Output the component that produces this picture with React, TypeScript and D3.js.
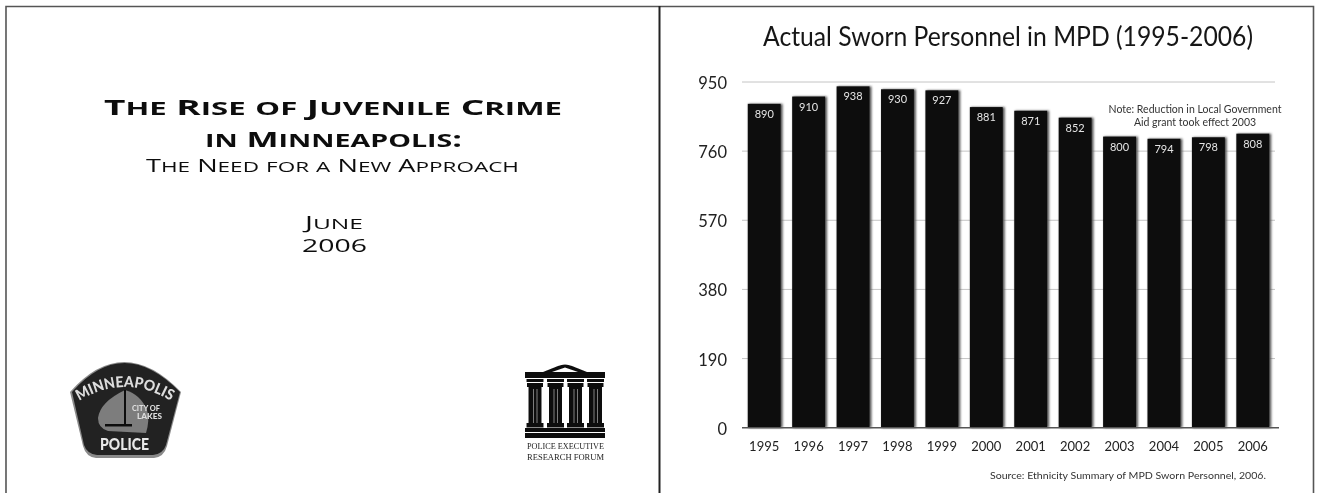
import React from "react";
import * as d3 from "d3";

const years = ["1995","1996","1997","1998","1999","2000","2001","2002","2003","2004","2005","2006"];
const sworn = [890,910,938,930,927,881,871,852,800,794,798,808];
const yTicks = [0,190,380,570,760,950];
const chartTitle = "Actual Sworn Personnel in MPD (1995-2006)";
const noteLines = ["Note: Reduction in Local Government","Aid grant took effect 2003"];
const sourceText = "Source: Ethnicity Summary of MPD Sworn Personnel, 2006.";

const W = 1318, H = 493;
const x = d3.scaleBand<string>().domain(years).range([742,1275]).paddingInner(0.26).paddingOuter(0.13);
const y = d3.scaleLinear().domain([0,950]).range([427.7,82]);
const gill = "Lato, 'Open Sans', sans-serif";
const bank = "'Open Sans', 'DejaVu Sans', sans-serif";

const titleLines = [
  { t:"The Rise of Juvenile Crime", x0:104, x1:562, base:115, big:22, small:18.5, weight:700 },
  { t:"in Minneapolis:", x0:205, x1:462, base:147, big:22, small:18.5, weight:700 },
  { t:"The Need for a New Approach", x0:146, x1:519, base:172, big:17.5, small:14.5, weight:500 },
  { t:"June", x0:305, x1:363, base:229, big:17.5, small:14.5, weight:500 },
  { t:"2006", x0:302, x1:367, base:252, big:17.5, small:17.5, weight:500 },
];
const columns = [535,555.5,575.5,595.5];
const baseBands = [[428,4],[433,5]];

function smallCaps(t: string, big: number, small: number) {
  return t.split("").map((c, i) => {
    const lower = c !== c.toUpperCase();
    return <tspan key={i} fontSize={lower ? small : big}>{c.toUpperCase()}</tspan>;
  });
}

export default function App() {
  return (
    <svg width={W} height={H} viewBox={`0 0 ${W} ${H}`} style={{position:"absolute",left:0,top:0,background:"#fff"}}>
      <defs>
        <filter id="soft" x="-2%" y="-2%" width="104%" height="104%"><feGaussianBlur stdDeviation="0.5"/></filter>
        <filter id="shadow" x="-30%" y="-5%" width="160%" height="110%"><feGaussianBlur stdDeviation="1.3"/></filter>
        <path id="arcTop" d="M79,401 Q125,373 171,401"/>
      </defs>
      <g filter="url(#soft)">
        <path d="M6,493 V6.5 H1313.5 V493" stroke="#555" strokeWidth={1.6} fill="none"/>
        <line x1={659.5} x2={659.5} y1={6} y2={493} stroke="#222" strokeWidth={2}/>

        {titleLines.map(l=>(
          <text key={l.t} x={l.x0} y={l.base} fontFamily={bank} fontWeight={l.weight}
            fill="#111" textLength={l.x1-l.x0} lengthAdjust="spacingAndGlyphs">{smallCaps(l.t,l.big,l.small)}</text>
        ))}

        {/* Minneapolis Police badge */}
        <path d="M70,392 Q123,332 181,392 L167,446 Q164,457 154,458 L96,458 Q86,457 83,446 Z" fill="#8a8a8a"/>
        <path d="M72,392 Q123,334 180,392 L166,445 Q163,454 153,455 L97,455 Q87,454 84,445 Z" fill="#222"/>
        <path d="M125,390 Q140,394 147,410 Q150,420 146,433 L108,431 Q98,428 98,418 Q100,402 125,390 Z" fill="#7d7d7d"/>
        <line x1={125} x2={125} y1={390} y2={425} stroke="#111" strokeWidth={2}/>
        <rect x={105} y={424} width={27} height={2.5} fill="#111"/>
        <text fontFamily={gill} fontSize={15} fontWeight={900} fill="#ddd">
          <textPath href="#arcTop" startOffset="0" textLength={97} lengthAdjust="spacingAndGlyphs">MINNEAPOLIS</textPath>
        </text>
        <text x={132} y={411} fontFamily={gill} fontSize={8} fontWeight={900} fill="#ddd" textLength={28} lengthAdjust="spacingAndGlyphs">CITY OF</text>
        <text x={137} y={419} fontFamily={gill} fontSize={8} fontWeight={900} fill="#ddd" textLength={25} lengthAdjust="spacingAndGlyphs">LAKES</text>
        <text x={100} y={450} fontFamily={gill} fontSize={16} fontWeight={900} fill="#e8e8e8" textLength={49} lengthAdjust="spacingAndGlyphs">POLICE</text>

        {/* Police Executive Research Forum logo */}
        <path d="M543,372 L558,366 Q565,363 572,366 L587,372 H578 L565,367.5 L552,372 Z" fill="#111"/>
        <rect x={525} y={372} width={80} height={6} fill="#111"/>
        {columns.map(c=>(
          <g key={c}>
            <rect x={c-8.5} y={379} width={17} height={3} fill="#111"/>
            <rect x={c-8} y={383} width={16} height={4} fill="#111"/>
            <rect x={c-6.5} y={387} width={13} height={36} fill="#111"/>
            <line x1={c-1.5} x2={c-1.5} y1={389} y2={423} stroke="#999" strokeWidth={0.8}/>
            <line x1={c+2} x2={c+2} y1={389} y2={423} stroke="#999" strokeWidth={0.8}/>
            <rect x={c-8.5} y={423} width={17} height={4.5} fill="#111"/>
          </g>
        ))}
        {baseBands.map(([top,h])=><rect key={top} x={525} y={top} width={80} height={h} fill="#111"/>)}
        <text x={527} y={449} fontFamily="'Liberation Serif', serif" fontSize={8} fill="#222" textLength={77} lengthAdjust="spacingAndGlyphs">POLICE EXECUTIVE</text>
        <text x={527} y={459.5} fontFamily="'Liberation Serif', serif" fontSize={8} fill="#222" textLength={77} lengthAdjust="spacingAndGlyphs">RESEARCH FORUM</text>

        {/* Chart */}
        <text x={763} y={46} fontFamily={gill} fontSize={26} fill="#151515" textLength={490} lengthAdjust="spacingAndGlyphs">{chartTitle}</text>

        {yTicks.map(t=>(
          <g key={t}>
            {t>0 && <line x1={742} x2={1275} y1={y(t)} y2={y(t)} stroke="#c4c4c4" strokeWidth={1}/>}
            <text x={727} y={y(t)+7} textAnchor="end" fontFamily={gill} fontSize={16.5} fill="#222">{t}</text>
          </g>
        ))}

        {years.map((yr,i)=>(
          <rect key={yr} x={x(yr)!+1} y={y(sworn[i])} width={x.bandwidth()+1} height={y(0)-y(sworn[i])} fill="#555" filter="url(#shadow)"/>
        ))}
        {years.map((yr,i)=>(
          <g key={yr}>
            <rect x={x(yr)} y={y(sworn[i])} width={x.bandwidth()} height={y(0)-y(sworn[i])} fill="#0c0c0c"/>
            <text x={x(yr)!+x.bandwidth()/2} y={y(sworn[i])+14} textAnchor="middle" fontFamily={gill} fontSize={11} fill="#e4e4e4">{sworn[i]}</text>
            <text x={x(yr)!+x.bandwidth()/2} y={450.5} textAnchor="middle" fontFamily={gill} fontSize={13} fill="#222">{yr}</text>
          </g>
        ))}
        <line x1={742} x2={1279} y1={y(0)} y2={y(0)} stroke="#555" strokeWidth={1.4}/>

        {noteLines.map((n,i)=>(
          <text key={n} x={1195} y={112.5+i*13.3} textAnchor="middle" fontFamily={gill} fontSize={10.5} fill="#333">{n}</text>
        ))}
        <text x={990} y={479} fontFamily={gill} fontSize={10} fill="#333" textLength={276} lengthAdjust="spacingAndGlyphs">{sourceText}</text>
      </g>
    </svg>
  );
}
